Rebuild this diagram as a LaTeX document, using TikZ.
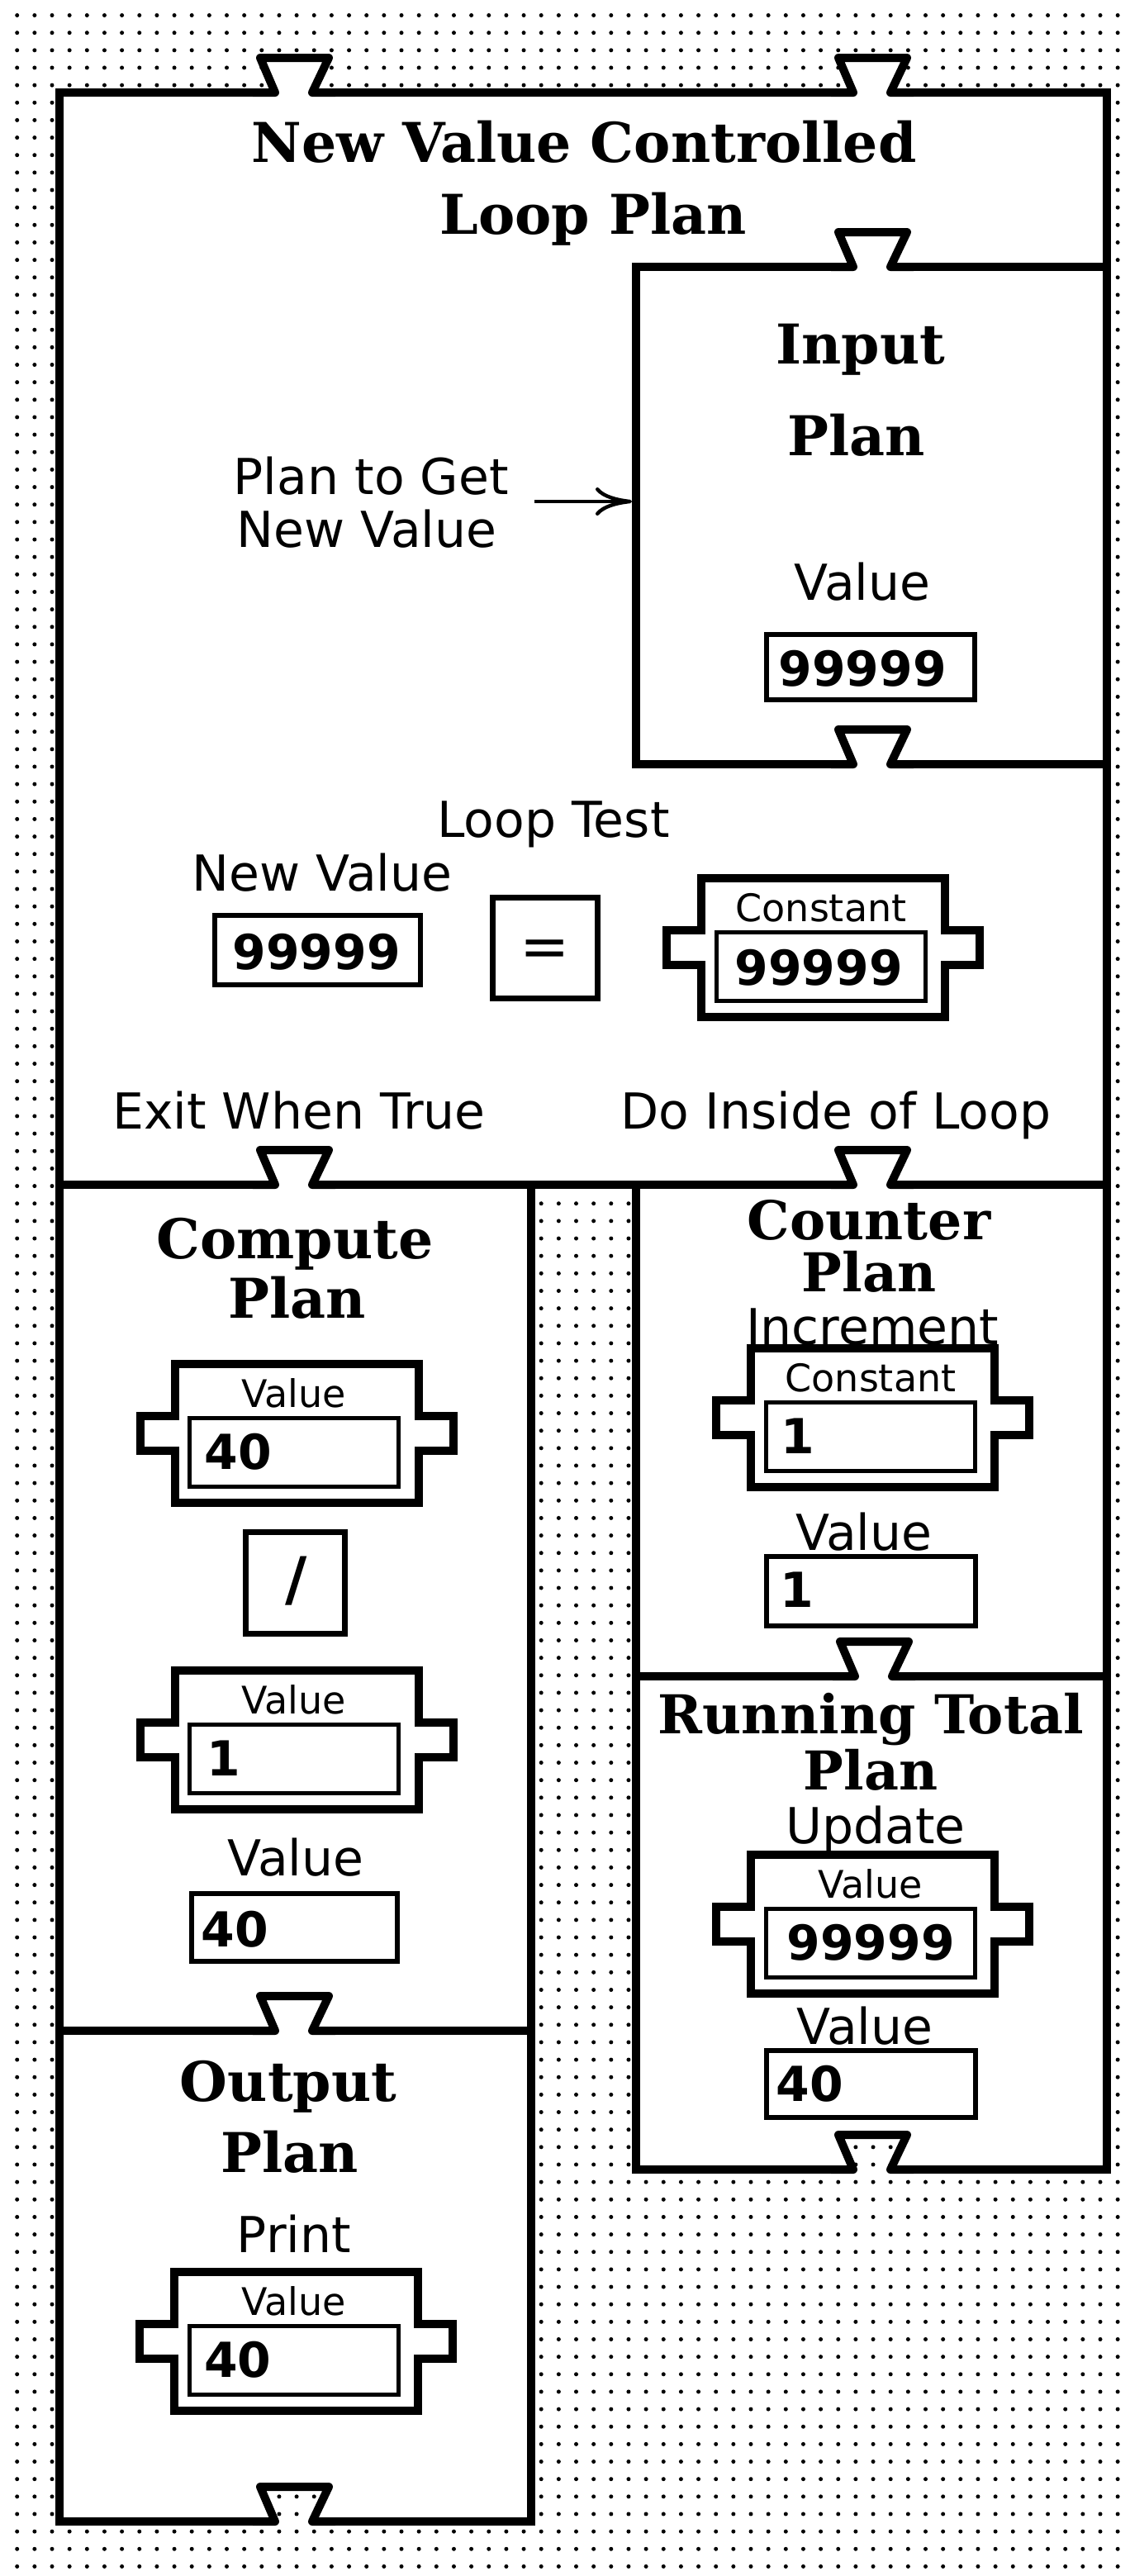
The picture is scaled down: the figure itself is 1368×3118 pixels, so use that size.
\documentclass[tikz,border=0pt]{standalone}
\usepackage{fontspec}
\setmainfont{DejaVu Sans}
\newfontfamily\serifttl{DejaVu Serif}
\usetikzlibrary{arrows.meta}

\tikzset{
  ttl/.style={font=\serifttl\bfseries\fontsize{16.6}{19}\selectfont, inner sep=0pt, anchor=base},
  ttltwo/.style={font=\serifttl\bfseries\fontsize{16.2}{15.75}\selectfont, inner sep=0pt, anchor=base, align=center},
  lbl/.style={font=\fontsize{15}{16}\selectfont, inner sep=0pt, anchor=base},
  lblw/.style={font=\fontsize{15}{16}\selectfont, inner sep=0pt, anchor=base west},
  sml/.style={font=\fontsize{11.5}{13}\selectfont, inner sep=0pt, anchor=base},
  num/.style={font=\bfseries\fontsize{14.6}{16}\selectfont, inner sep=0pt, anchor=base},
  numw/.style={font=\bfseries\fontsize{14.6}{16}\selectfont, inner sep=0pt, anchor=base west},
  opsym/.style={font=\fontsize{18}{20}\selectfont, inner sep=0pt, anchor=center},
  frameline/.style={line width=2.5pt, line cap=rect, line join=miter},
  notchline/.style={line width=2.5pt, line join=round},
  connline/.style={line width=2.5pt, line join=miter},
  innerline/.style={line width=1.25pt},
  vboxline/.style={line width=1.5pt},
  opline/.style={line width=1.75pt},
  dotrow/.style={line width=1.25pt, line cap=round, dash pattern=on 0pt off 5.2875pt},
  pointer/.style={line width=1.1pt, -{Computer Modern Rightarrow[length=11pt,width=8.5pt]}}
}

\newcommand\dotgrid{%
  \foreach \j in {0,...,146}{%
    \draw[dotrow] (20.7,{18.5+\j*21.15}) -- (1368,{18.5+\j*21.15});}}

\newcommand\tabnotch[2]{%
  \fill[white] (#1-23,#2+6) -- (#1-23,#2) -- (#1-41,#2-42) -- (#1+42,#2-42) -- (#1+22,#2) -- (#1+22,#2+6) -- cycle;
  \draw[notchline] (#1-50,#2) -- (#1-23,#2) -- (#1-41,#2-42) -- (#1+42,#2-42) -- (#1+22,#2) -- (#1+50,#2);}

\newcommand\holenotch[2]{%
  \fill[white] (#1-23,#2+6) -- (#1-23,#2) -- (#1-41,#2-42) -- (#1+42,#2-42) -- (#1+22,#2) -- (#1+22,#2+6) -- cycle;
  \begin{scope}
    \clip (#1-23,#2+8) -- (#1-23,#2) -- (#1-41,#2-42) -- (#1+42,#2-42) -- (#1+22,#2) -- (#1+22,#2+8) -- cycle;
    \dotgrid
  \end{scope}
  \draw[notchline] (#1-50,#2) -- (#1-23,#2) -- (#1-41,#2-42) -- (#1+42,#2-42) -- (#1+22,#2) -- (#1+50,#2);}

\newcommand\valconn[2]{%
  \draw[connline] (#1-147.5,#2-84) -- (#1+147.5,#2-84) -- (#1+147.5,#2-21) -- (#1+189.5,#2-21)
    -- (#1+189.5,#2+21) -- (#1+147.5,#2+21) -- (#1+147.5,#2+84) -- (#1-147.5,#2+84)
    -- (#1-147.5,#2+21) -- (#1-189.5,#2+21) -- (#1-189.5,#2-21) -- (#1-147.5,#2-21) -- cycle;
  \draw[innerline] (#1-129.5,#2-18.5) rectangle (#1+123.5,#2+64.5);}

\begin{document}
\begin{tikzpicture}[x=0.25pt, y=-0.25pt]
\useasboundingbox (0,0) rectangle (1368,3118);
\fill[white] (0,0) rectangle (1368,3118);

% dotted background
\dotgrid

% white plan areas
\fill[white] (72,112) -- (1340,112) -- (1340,2626) -- (770,2626) -- (770,1434)
  -- (643,1434) -- (643,3052) -- (72,3052) -- cycle;

% frames
\draw[frameline] (72,3052) -- (72,112) -- (1340,112) -- (1340,2626) -- (770,2626) -- (770,1434);
\draw[frameline] (72,3052) -- (643,3052) -- (643,1434);
\draw[frameline] (72,1434) -- (1340,1434);
\draw[frameline] (1340,323) -- (770,323) -- (770,925) -- (1340,925);
\draw[frameline] (72,2458) -- (643,2458);
\draw[frameline] (770,2029) -- (1340,2029);

% notches
\tabnotch{356}{112}
\tabnotch{1056}{112}
\tabnotch{1056}{323}
\tabnotch{1056}{925}
\tabnotch{356}{1434}
\tabnotch{1056}{1434}
\tabnotch{356}{2458}
\tabnotch{1058}{2029}
\holenotch{1056}{2626}
\holenotch{356}{3052}

% titles
\node[ttl] (ttlNew) at (707,196) {New Value Controlled};
\node[ttl] (ttlLoop) at (718,283) {Loop Plan};
\node[ttl] (ttlInput) at (1042,440) {Input};
\node[ttl] (ttlInputPlan) at (1037,551) {Plan};
\node[ttl] (ttlCompute) at (357,1523) {Compute};
\node[ttl] (ttlComputePlan) at (360,1595) {Plan};
\node[ttltwo] (ttlCounter) at (1052,1563) {Counter\\Plan};
\node[ttltwo] (ttlRunning) at (1054,2166) {Running Total\\Plan};
\node[ttl] (ttlOutput) at (349,2543) {Output};
\node[ttl] (ttlOutputPlan) at (351,2629) {Plan};

% labels
\node[lblw] (lblGet) at (282,598) {Plan to Get};
\node[lblw] (lblGetNV) at (286,662) {New Value};
\node[lbl] (lblInVal) at (1044,726) {Value};
\node[lbl] (lblTest) at (670,1013) {Loop Test};
\node[lbl] (lblNV) at (390,1078) {New Value};
\node[lbl] (lblExit) at (362,1366) {Exit When True};
\node[lbl] (lblDo) at (1012,1366) {Do Inside of Loop};
\node[lbl] (lblIncr) at (1056,1627) {Increment};
\node[lbl] (lblCntVal) at (1046,1876) {Value};
\node[lbl] (lblUpd) at (1060,2231) {Update};
\node[lbl] (lblRunVal) at (1047,2474) {Value};
\node[lbl] (lblCmpVal) at (358,2270) {Value};
\node[lbl] (lblPrint) at (356,2726) {Print};

% arrow
\coordinate (arrowTail) at (647,607);
\coordinate (inputWest) at (765,607);
\draw[pointer] (arrowTail) -- (inputWest);

% plain value boxes
\draw[vboxline] (928,768) rectangle (1180,847);
\node[num] (numIn) at (1044,830) {99999};
\draw[vboxline] (260,1108) rectangle (509,1192);
\node[num] (numNV) at (383,1173) {99999};
\draw[vboxline] (928,1884) rectangle (1181,1968);
\node[numw] (numCntVal) at (944,1945) {1};
\draw[vboxline] (232,2292) rectangle (481,2374);
\node[numw] (numCmpVal) at (243,2356) {40};
\draw[vboxline] (928,2482) rectangle (1181,2563);
\node[numw] (numRunVal) at (939,2543) {40};

% operator boxes
\draw[opline] (596.5,1086.5) rectangle (723.5,1208.5);
\node[opsym] (opEq) at (660,1154) {=};
\draw[opline] (297.5,1854.5) rectangle (417.5,1977.5);
\node[opsym, font=\bfseries\fontsize{18}{20}\selectfont] (opDiv) at (359,1914) {/};

% value connectors
\valconn{996.5}{1147}
\node[sml] (smlConst) at (994,1115) {Constant};
\node[num] (numConst) at (991,1192) {99999};

\valconn{359}{1735}
\node[sml] (smlVal1) at (356,1703) {Value};
\node[numw] (numVal1) at (247,1778) {40};

\valconn{359}{2106}
\node[sml] (smlVal2) at (356,2074) {Value};
\node[numw] (numVal2) at (250,2149) {1};

\valconn{358.5}{2834}
\node[sml] (smlVal3) at (356,2802) {Value};
\node[numw] (numVal3) at (246.5,2877) {40};

\valconn{1056.5}{1716}
\node[sml] (smlConst2) at (1054,1684) {Constant};
\node[numw] (numConst2) at (944.5,1759) {1};

\valconn{1056.5}{2328.5}
\node[sml] (smlVal4) at (1054,2297) {Value};
\node[num] (numVal4) at (1054,2372) {99999};

\end{tikzpicture}
\end{document}
